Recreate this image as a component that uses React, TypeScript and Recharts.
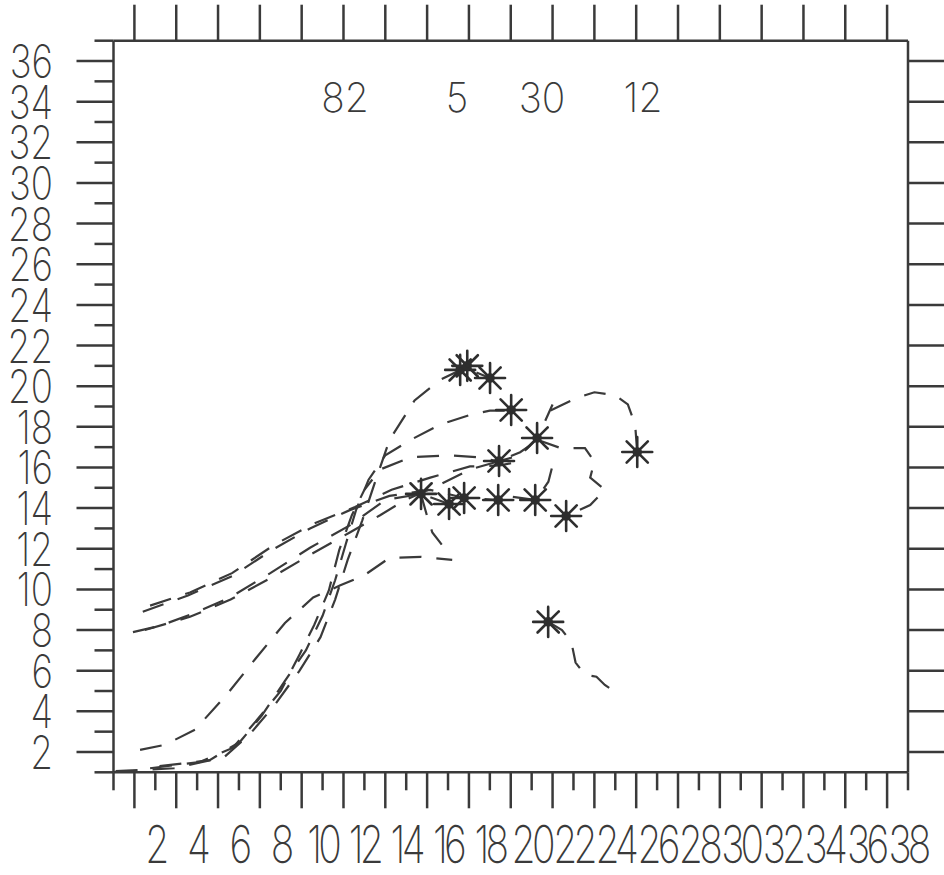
import React from 'react';
import { ComposedChart, Line, Scatter, XAxis, YAxis } from 'recharts';

const W = 944;
const H = 875;
const INK = '#3a3a3a';
const FONT = 'Inter, "Liberation Sans", sans-serif';
const FONT_WEIGHT = 200;

// frame of the plot, page pixels
const LEFT = 113.5;
const RIGHT = 908;
const TOP = 40.7;
const BOTTOM = 772.3;

const xTicks = [0, 1, 2, 3, 4, 5, 6, 7, 8, 9, 10, 11, 12, 13, 14, 15, 16, 17, 18, 19, 20, 21, 22, 23, 24, 25, 26, 27, 28, 29, 30, 31, 32, 33, 34, 35, 36, 37, 38];
const yTicks = [1, 2, 3, 4, 5, 6, 7, 8, 9, 10, 11, 12, 13, 14, 15, 16, 17, 18, 19, 20, 21, 22, 23, 24, 25, 26, 27, 28, 29, 30, 31, 32, 33, 34, 35, 36, 37];
const titleNumbers = ['82', '5', '30', '12'];

type Pt = { x: number; y: number };

// steep tracks from the lower left
const track1: Pt[] = [
  { x: 0.1, y: 1.06 }, { x: 2.9, y: 1.2 }, { x: 5.3, y: 1.75 }, { x: 6.5, y: 2.85 }, { x: 7.7, y: 4.3 },
  { x: 8.9, y: 6.0 }, { x: 9.9, y: 7.65 }, { x: 10.6, y: 9.5 }, { x: 11.2, y: 11.45 }, { x: 11.9, y: 13.4 },
  { x: 12.5, y: 15.25 }, { x: 13.2, y: 17.35 }, { x: 14.4, y: 19.3 }, { x: 15.6, y: 20.3 }, { x: 16.6, y: 20.8 },
  { x: 17.3, y: 20.7 }, { x: 18.0, y: 20.4 },
];
const track2: Pt[] = [
  { x: 2.2, y: 1.3 }, { x: 4.6, y: 1.6 }, { x: 6.05, y: 2.5 }, { x: 7.1, y: 3.8 }, { x: 8.2, y: 5.5 },
  { x: 9.2, y: 7.0 }, { x: 10.0, y: 8.7 }, { x: 10.6, y: 10.45 }, { x: 11.1, y: 12.2 }, { x: 11.6, y: 13.9 },
  { x: 12.2, y: 15.4 }, { x: 13.0, y: 16.6 }, { x: 14.2, y: 17.35 }, { x: 15.6, y: 18.1 }, { x: 17.1, y: 18.6 },
  { x: 18.0, y: 18.8 }, { x: 19.0, y: 18.8 },
];
const track3: Pt[] = [
  { x: 1.75, y: 1.2 }, { x: 4.1, y: 1.5 }, { x: 5.7, y: 2.2 }, { x: 6.8, y: 3.5 }, { x: 8.0, y: 5.0 },
  { x: 8.9, y: 6.8 }, { x: 9.6, y: 8.25 }, { x: 10.3, y: 9.95 }, { x: 10.8, y: 11.95 }, { x: 11.4, y: 13.65 },
  { x: 12.0, y: 14.9 }, { x: 12.75, y: 15.9 }, { x: 14.2, y: 16.5 }, { x: 16.1, y: 16.6 }, { x: 17.5, y: 16.5 },
  { x: 18.4, y: 16.3 }, { x: 19.45, y: 16.6 }, { x: 20.3, y: 17.45 }, { x: 20.65, y: 18.3 }, { x: 21.0, y: 19.1 },
];
const track4: Pt[] = [
  { x: 1.27, y: 2.1 }, { x: 2.46, y: 2.35 }, { x: 3.9, y: 3.1 }, { x: 5.4, y: 4.8 }, { x: 6.8, y: 6.6 },
  { x: 8.2, y: 8.35 }, { x: 9.55, y: 9.6 }, { x: 10.85, y: 10.2 }, { x: 12.0, y: 10.7 }, { x: 13.2, y: 11.55 },
  { x: 14.7, y: 11.6 }, { x: 16.2, y: 11.45 },
];
const track5: Pt[] = [{ x: 14.7, y: 14.7 }, { x: 15.0, y: 13.6 }, { x: 15.25, y: 12.8 }, { x: 15.7, y: 12.2 }];

// shallow tracks from the left edge
const track6: Pt[] = [
  { x: 0.93, y: 7.9 }, { x: 2.2, y: 8.2 }, { x: 3.66, y: 8.75 }, { x: 5.57, y: 9.6 }, { x: 7.5, y: 10.8 },
  { x: 9.4, y: 12.05 }, { x: 11.3, y: 13.15 }, { x: 13.0, y: 14.4 }, { x: 14.7, y: 14.7 }, { x: 16.05, y: 14.2 },
];
const track7: Pt[] = [
  { x: 1.4, y: 8.9 }, { x: 3.56, y: 9.7 }, { x: 5.67, y: 10.65 }, { x: 7.6, y: 11.95 }, { x: 9.4, y: 13.0 },
  { x: 11.3, y: 13.9 }, { x: 13.2, y: 14.6 }, { x: 15.15, y: 14.9 }, { x: 16.8, y: 14.5 }, { x: 18.4, y: 14.4 },
  { x: 20.2, y: 14.4 },
];
const track8: Pt[] = [
  { x: 1.5, y: 8.0 }, { x: 3.66, y: 8.65 }, { x: 5.6, y: 9.5 }, { x: 7.5, y: 10.55 }, { x: 9.4, y: 11.7 },
  { x: 11.3, y: 12.8 }, { x: 12.75, y: 13.65 }, { x: 13.95, y: 14.4 }, { x: 15.6, y: 15.15 }, { x: 17.05, y: 15.9 },
  { x: 18.4, y: 16.3 }, { x: 19.45, y: 16.75 }, { x: 20.3, y: 17.35 },
];
const track9: Pt[] = [
  { x: 1.75, y: 9.2 }, { x: 3.66, y: 9.85 }, { x: 5.67, y: 10.8 }, { x: 7.7, y: 12.2 }, { x: 9.6, y: 13.25 },
  { x: 11.55, y: 14.05 }, { x: 13.3, y: 14.9 }, { x: 15.15, y: 15.5 }, { x: 17.05, y: 16.05 }, { x: 18.5, y: 16.1 },
  { x: 19.45, y: 16.3 },
];

// short tracks on the right
const track10: Pt[] = [{ x: 19.1, y: 14.55 }, { x: 20.2, y: 14.4 }, { x: 20.8, y: 15.3 }, { x: 21.0, y: 16.1 }];
const track11: Pt[] = [
  { x: 20.3, y: 17.35 }, { x: 21.4, y: 16.95 }, { x: 22.55, y: 16.95 }, { x: 23.0, y: 16.3 },
  { x: 22.8, y: 15.5 }, { x: 23.5, y: 14.9 }, { x: 22.8, y: 14.15 }, { x: 21.65, y: 13.6 },
];
const track12: Pt[] = [
  { x: 20.9, y: 18.8 }, { x: 22.1, y: 19.4 }, { x: 23.0, y: 19.7 }, { x: 24.0, y: 19.55 },
  { x: 24.6, y: 19.1 }, { x: 24.95, y: 18.1 }, { x: 25.05, y: 16.75 },
];
const track13: Pt[] = [
  { x: 20.8, y: 8.4 }, { x: 21.45, y: 8.0 }, { x: 21.9, y: 7.4 }, { x: 22.1, y: 6.4 },
  { x: 22.55, y: 5.8 }, { x: 23.1, y: 5.7 }, { x: 23.5, y: 5.3 }, { x: 24.0, y: 4.95 },
];

const tracks = [track1, track2, track3, track4, track5, track6, track7, track8, track9, track10, track11, track12, track13];

const stars: Pt[] = [
  { x: 16.58, y: 20.8 }, { x: 16.92, y: 21.0 }, { x: 18.01, y: 20.4 }, { x: 19.02, y: 18.83 },
  { x: 20.26, y: 17.45 }, { x: 18.44, y: 16.32 }, { x: 14.71, y: 14.7 }, { x: 16.05, y: 14.2 },
  { x: 16.77, y: 14.5 }, { x: 18.4, y: 14.4 }, { x: 20.17, y: 14.4 }, { x: 21.65, y: 13.61 },
  { x: 25.05, y: 16.76 }, { x: 20.79, y: 8.4 },
];

const titleX = [345, 457, 542, 643];

function Asterisk({ cx, cy }: { cx: number; cy: number }) {
  const r = 15;
  const d = r * Math.SQRT1_2;
  return (
    <g stroke="#2e2e2e" strokeWidth={2.6} strokeLinecap="round">
      <line x1={cx - r} y1={cy} x2={cx + r} y2={cy} />
      <line x1={cx} y1={cy - r} x2={cx} y2={cy + r} />
      <line x1={cx - d} y1={cy - d} x2={cx + d} y2={cy + d} />
      <line x1={cx - d} y1={cy + d} x2={cx + d} y2={cy - d} />
      <circle cx={cx} cy={cy} r={3.5} fill="#2e2e2e" />
    </g>
  );
}

function LeftTick({ y, payload }: any) {
  const v = payload.value;
  const even = v % 2 === 0;
  return (
    <g>
      <line x1={LEFT - (even ? 37 : 19)} x2={LEFT} y1={y} y2={y} stroke={INK} strokeWidth={2.5} />
      {even && (
        <text transform={`translate(53 ${y + 17}) scale(0.8 1)`} textAnchor="end" fontSize={46}
          fontFamily={FONT} fontWeight={FONT_WEIGHT} fill={INK}>
          {v}
        </text>
      )}
    </g>
  );
}

function BottomTick({ x, payload }: any) {
  const v = payload.value;
  const even = v % 2 === 0;
  return (
    <g>
      <line x1={x} x2={x} y1={BOTTOM} y2={BOTTOM + (even ? 18 : 36)} stroke={INK} strokeWidth={2.5} />
      {even && v >= 2 && (
        <text transform={`translate(${x} 863) scale(0.75 1)`} textAnchor="middle" letterSpacing={-5} fontSize={52}
          fontFamily={FONT} fontWeight={FONT_WEIGHT} fill={INK}>
          {v}
        </text>
      )}
    </g>
  );
}

function TopTick({ x, payload }: any) {
  if (payload.value % 2 === 0) return <g />;
  return <line x1={x} x2={x} y1={TOP} y2={TOP - 36} stroke={INK} strokeWidth={2.5} />;
}

function RightTick({ y, payload }: any) {
  if (payload.value % 2 !== 0) return <g />;
  return <line x1={RIGHT} x2={W} y1={y} y2={y} stroke={INK} strokeWidth={2.5} />;
}

export default function App() {
  const axisLine = { stroke: INK, strokeWidth: 2.5 };
  return (
    <div style={{ position: 'absolute', left: 0, top: 0, width: W, height: H, background: '#fff' }}>
      <ComposedChart width={W} height={H} margin={{ top: 0, right: 0, bottom: 0, left: 0 }}>
        <XAxis type="number" dataKey="x" domain={[0, 38]} ticks={xTicks} interval={0} height={H - BOTTOM}
          tickLine={false} tickSize={0} axisLine={axisLine} tick={<BottomTick />} allowDataOverflow />
        <XAxis xAxisId="top" orientation="top" type="number" dataKey="x" domain={[0, 38]} ticks={xTicks} interval={0}
          height={TOP} tickLine={false} tickSize={0} axisLine={axisLine} tick={<TopTick />} allowDataOverflow />
        <YAxis type="number" dataKey="y" domain={[1, 37]} ticks={yTicks} interval={0} width={LEFT}
          tickLine={false} tickSize={0} axisLine={axisLine} tick={<LeftTick />} allowDataOverflow />
        <YAxis yAxisId="right" orientation="right" type="number" domain={[1, 37]} ticks={yTicks} interval={0}
          width={W - RIGHT} tickLine={false} tickSize={0} axisLine={axisLine} tick={<RightTick />} allowDataOverflow />
        {tracks.map((t, i) => (
          <Line key={i} data={t} dataKey="y" type="linear" stroke={INK} strokeWidth={2.2}
            strokeDasharray="22 15" dot={false} activeDot={false} isAnimationActive={false} />
        ))}
        <Scatter data={stars} dataKey="y" isAnimationActive={false}
          shape={(p: any) => <Asterisk cx={p.cx} cy={p.cy} />} />
      </ComposedChart>
      <svg width={W} height={H} style={{ position: 'absolute', left: 0, top: 0, pointerEvents: 'none' }}>
        {titleNumbers.map((t, i) => (
          <text key={t} transform={`translate(${titleX[i]} 112) scale(0.95 1)`} textAnchor="middle"
            fontSize={41} fontFamily={FONT} fontWeight={FONT_WEIGHT} fill={INK}>
            {t}
          </text>
        ))}
      </svg>
    </div>
  );
}
